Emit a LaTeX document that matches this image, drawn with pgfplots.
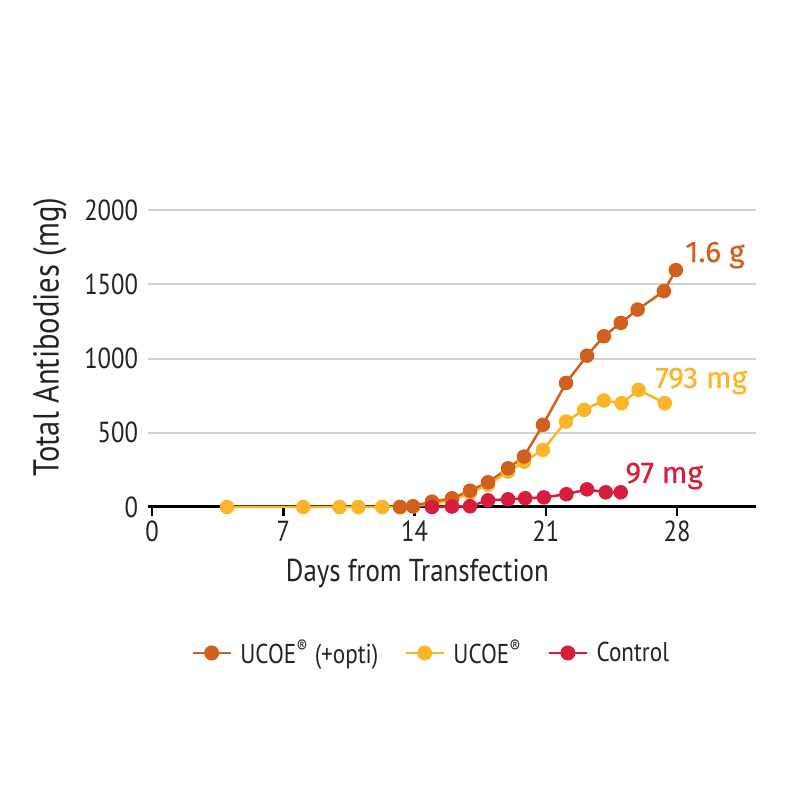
\documentclass[border=0pt]{standalone}
\usepackage{fontspec}
\setmainfont{PT Sans}[FakeStretch=0.85]
\newfontfamily\annfont{Fira Sans}[FakeBold=0.5]
\usepackage{pgfplots}
\pgfplotsset{compat=1.18}
\definecolor{cOr}{RGB}{209,95,30}
\definecolor{cYe}{RGB}{250,182,40}
\definecolor{cRe}{RGB}{214,30,60}
\definecolor{cTx}{RGB}{35,35,35}
\begin{document}
\begin{tikzpicture}
\path[use as bounding box] (0,0) rectangle (160mm,160mm);
\begin{axis}[
  at={(29.65mm,58.6mm)}, anchor=south west,
  scale only axis, width=121.5mm, height=59.34mm,
  xmin=-0.2, xmax=32.2, ymin=0, ymax=2000,
  clip=false,
  axis x line*=bottom, axis y line*=left,
  y axis line style={draw=none},
  x axis line style={line width=0.6mm, black},
  xtick={0,7,14,21,28},
  ytick={0,500,1000,1500,2000},
  tick align=outside,
  major tick length=1.8mm,
  xtick style={line width=0.5mm, black},
  ytick style={draw=none},
  ymajorgrids=true,
  major grid style={draw=black!18, line width=0.4mm},
  /pgf/number format/assume math mode=true,
  /pgf/number format/set thousands separator={},
  tick label style={font=\fontsize{16.5}{18}\selectfont, text=cTx},
  yticklabel style={anchor=east, xshift=1.0mm},
  xticklabel style={yshift=0.3mm},
  xlabel={Days from Transfection},
  ylabel={Total Antibodies (mg)},
  xlabel style={font=\fontsize{18}{20}\selectfont, text=cTx, at={(axis description cs:0.443,-0.224)}, anchor=center},
  ylabel style={font=\fontsize{20.5}{22}\selectfont, text=cTx, at={(axis description cs:-0.162,0.573)}, anchor=center},
  legend columns=3,
  legend style={at={(axis description cs:0.467,-0.492)}, anchor=center, draw=none, fill=none,
    font=\fontsize{15.5}{17}\selectfont, text=cTx,
    /tikz/every odd column/.append style={column sep=1.0mm},
    /tikz/every even column/.append style={column sep=4.5mm}},
  legend cell align=left,
  legend image code/.code={\draw[mark repeat=2,mark phase=2,#1] plot coordinates {(0mm,0mm) (3.8mm,0mm) (7.6mm,0mm)};},
  every axis plot/.append style={line width=0.5mm, mark=*, mark size=1.2mm},
]
\addlegendimage{color=cOr, mark options={fill=cOr, draw=cOr}, line width=0.5mm, mark=*, mark size=1.25mm}
\addlegendentry{UCOE\textsuperscript{®} (+opti)}
\addlegendimage{color=cYe, mark options={fill=cYe, draw=cYe}, line width=0.5mm, mark=*, mark size=1.25mm}
\addlegendentry{UCOE\textsuperscript{®}}
\addlegendimage{color=cRe, mark options={fill=cRe, draw=cRe}, line width=0.5mm, mark=*, mark size=1.25mm}
\addlegendentry{Control}
% UCOE
\addplot[color=cYe, mark options={fill=cYe, draw=cYe}, forget plot] coordinates {
(4.0,0) (8.07,0) (10.0,0) (11.0,0) (12.28,0) (13.23,0) (13.92,3) (14.93,22) (16.0,45) (16.96,95) (17.92,150) (18.99,239) (19.84,306) (20.85,385) (22.08,576) (23.05,655) (24.1,718) (25.05,700) (25.95,790) (27.35,700)};
% UCOE (+opti)
\addplot[color=cOr, mark options={fill=cOr, draw=cOr}, forget plot] coordinates {
(13.23,0) (13.92,5) (14.93,36) (16.0,59) (16.96,110) (17.92,167) (18.99,261) (19.84,340) (20.85,554) (22.08,836) (23.2,1020) (24.1,1151) (25.0,1241) (25.9,1331) (27.3,1455) (27.94,1597)};
% Control
\addplot[color=cRe, mark options={fill=cRe, draw=cRe}, forget plot] coordinates {
(14.93,0) (16.0,3) (16.96,5) (17.92,45) (18.99,52) (19.9,59) (20.9,65) (22.1,86) (23.2,119) (24.2,99) (25.0,99)};
\node[anchor=base west, text=cOr, font=\annfont\fontsize{17}{19}\selectfont, inner sep=0pt] at (axis cs:28.43,1651) {1.6 g};
\node[anchor=base west, text=cYe, font=\annfont\fontsize{17}{19}\selectfont, inner sep=0pt] at (axis cs:26.83,802) {793 mg};
\node[anchor=base west, text=cRe, font=\annfont\fontsize{17}{19}\selectfont, inner sep=0pt] at (axis cs:25.23,162) {97 mg};
\end{axis}
\end{tikzpicture}
\end{document}
